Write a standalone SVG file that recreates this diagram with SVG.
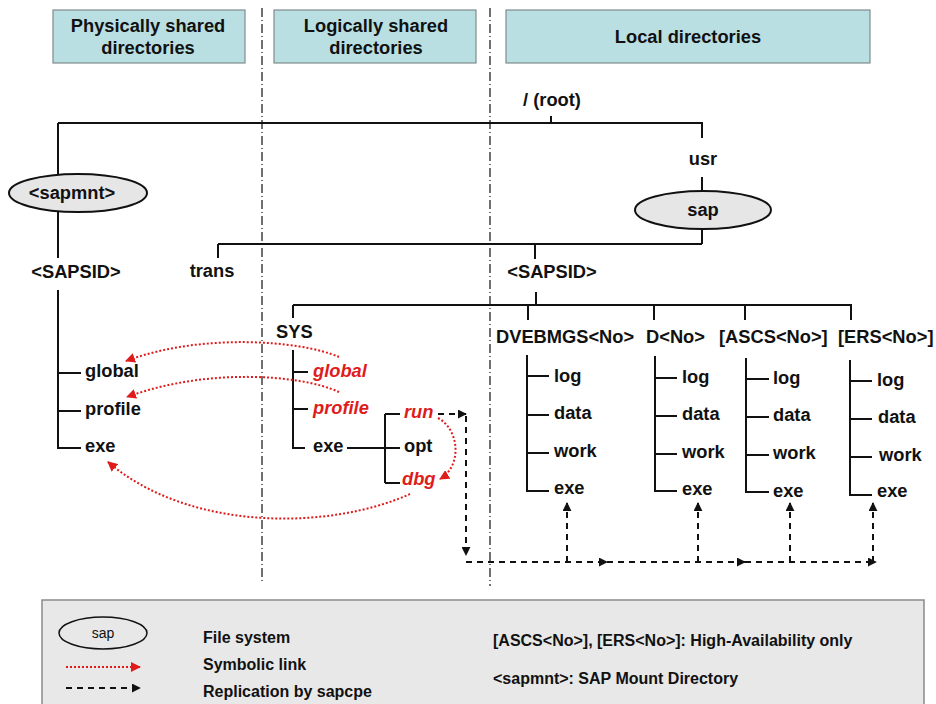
<svg xmlns="http://www.w3.org/2000/svg" width="936" height="704" viewBox="0 0 936 704">
  <style>
    .hdr { fill: #b9dfe3; stroke: #7f8c8d; stroke-width: 1.2; }
    .ht { font-family: "Liberation Sans", Arial, sans-serif; font-weight: bold; font-size: 18.3px; fill: #111; text-anchor: middle; }
    .t { font-family: "Liberation Sans", Arial, sans-serif; font-weight: bold; font-size: 18.3px; fill: #111; }
    .tm { text-anchor: middle; }
    .red { fill: #e01b1b; font-style: italic; }
    .tree { fill: none; stroke: #111; stroke-width: 2; }
    .sep { fill: none; stroke: #111; stroke-width: 1.2; stroke-dasharray: 9 3 1 3; }
    .fs { fill: #e6e6e6; stroke: #111; stroke-width: 2; }
    .sym { fill: none; stroke: #e01b1b; stroke-width: 2; stroke-dasharray: 2 2; }
    .rep { fill: none; stroke: #111; stroke-width: 2; stroke-dasharray: 6 5; }
    .lg { font-family: "Liberation Sans", Arial, sans-serif; font-weight: bold; font-size: 16px; fill: #111; }
  </style>
  <defs>
    <marker id="ahRed" viewBox="0 0 10 10" refX="9" refY="5" markerWidth="10" markerHeight="10" markerUnits="userSpaceOnUse" orient="auto">
      <path d="M0,0 L10,5 L0,10 z" fill="#e01b1b"/>
    </marker>
    <marker id="ahBlack" viewBox="0 0 10 10" refX="9" refY="5" markerWidth="9" markerHeight="9" markerUnits="userSpaceOnUse" orient="auto">
      <path d="M0,0 L10,5 L0,10 z" fill="#111"/>
    </marker>
  </defs>

  <rect width="936" height="704" fill="#ffffff"/>

  <!-- column headers -->
  <g id="hdr-physical">
    <rect class="hdr" x="53" y="10" width="192" height="53"/>
    <text class="ht" x="148" y="32">Physically shared</text>
    <text class="ht" x="148" y="54">directories</text>
  </g>
  <g id="hdr-logical">
    <rect class="hdr" x="274" y="10" width="202" height="53"/>
    <text class="ht" x="376" y="32">Logically shared</text>
    <text class="ht" x="376" y="54">directories</text>
  </g>
  <g id="hdr-local">
    <rect class="hdr" x="506" y="10" width="364" height="53"/>
    <text class="ht" x="688" y="43">Local directories</text>
  </g>

  <!-- zone separators -->
  <g id="separators">
    <line class="sep" x1="262" y1="8" x2="262" y2="582"/>
    <line class="sep" x1="490" y1="8" x2="490" y2="586"/>
  </g>

  <!-- tree connectors -->
  <g id="connectors">
    <!-- root level -->
    <path class="tree" d="M551,116 V123 M58,123 H702 V138 M58,123 V174"/>
    <path class="tree" d="M702,177 V192 M702,229 V244 M218,244 H702 M218,244 V258 M535,244 V259"/>
    <!-- physically shared SAPSID -->
    <path class="tree" d="M58,212 V258 M58,290 V448 H81 M58,373 H81 M58,411 H81"/>
    <!-- SAPSID (local) -->
    <path class="tree" d="M536,292 V305 M293,305 H852 M293,305 V318"/>
    <!-- SYS -->
    <path class="tree" d="M293,350 V448 H305 M293,372 H308 M293,409 H308"/>
    <path class="tree" d="M347,448 H400 M385,414 V483 M385,414 H400 M385,483 H400"/>
    <!-- instance directories -->
    <path class="tree" d="M528,305 V320 M654,305 V320 M745,305 V320 M851,305 V320"/>
    <path class="tree" d="M527,355 V491 H549 M527,376 H549 M527,415 H549 M527,453 H549"/>
    <path class="tree" d="M655,356 V491 H677 M655,378 H677 M655,416 H677 M655,454 H677"/>
    <path class="tree" d="M746,358 V492 H769 M746,379 H769 M746,417 H769 M746,455 H769"/>
    <path class="tree" d="M850,360 V495 H872 M850,381 H872 M850,419 H872 M850,457 H872"/>

    <!-- symbolic links -->
    <path class="sym" d="M339,357 C300,340 200,333 126,361" marker-end="url(#ahRed)"/>
    <path class="sym" d="M339,392 C300,374 205,368 127,397" marker-end="url(#ahRed)"/>
    <path class="sym" d="M410,494 C330,530 190,532 108,462" marker-end="url(#ahRed)"/>
    <path class="sym" d="M438,418 C460,430 462,466 440,479" marker-end="url(#ahRed)"/>

    <!-- replication by sapcpe -->
    <path class="rep" d="M438,414 H466" marker-end="url(#ahBlack)"/>
    <path class="rep" d="M466,416 V555" marker-end="url(#ahBlack)"/>
    <path class="rep" d="M466,562 H607" marker-end="url(#ahBlack)"/>
    <path class="rep" d="M607,562 H745" marker-end="url(#ahBlack)"/>
    <path class="rep" d="M745,562 H876" marker-end="url(#ahBlack)"/>
    <path class="rep" d="M567,562 V503" marker-end="url(#ahBlack)"/>
    <path class="rep" d="M698,562 V503" marker-end="url(#ahBlack)"/>
    <path class="rep" d="M790,562 V503" marker-end="url(#ahBlack)"/>
    <path class="rep" d="M873,562 V503" marker-end="url(#ahBlack)"/>
  </g>

  <!-- nodes -->
  <g id="n-root"><text class="t tm" x="552" y="106">/ (root)</text></g>
  <g id="n-usr"><text class="t tm" x="703" y="165">usr</text></g>
  <g id="n-sap">
    <ellipse class="fs" cx="703" cy="210" rx="68" ry="19"/>
    <text class="t tm" x="703" y="216">sap</text>
  </g>
  <g id="n-sapmnt">
    <ellipse class="fs" cx="78" cy="193" rx="69" ry="19"/>
    <text class="t tm" x="72" y="199">&lt;sapmnt&gt;</text>
  </g>
  <g id="n-sapsid-phys"><text class="t tm" x="76" y="278">&lt;SAPSID&gt;</text></g>
  <g id="n-global-phys"><text class="t" x="85" y="377">global</text></g>
  <g id="n-profile-phys"><text class="t" x="85" y="415">profile</text></g>
  <g id="n-exe-phys"><text class="t" x="85" y="452">exe</text></g>

  <g id="n-trans"><text class="t tm" x="212" y="277">trans</text></g>
  <g id="n-sapsid-local"><text class="t tm" x="552" y="278">&lt;SAPSID&gt;</text></g>

  <g id="n-sys"><text class="t" x="276" y="338">SYS</text></g>
  <g id="n-sys-global"><text class="t red" x="313" y="377">global</text></g>
  <g id="n-sys-profile"><text class="t red" x="313" y="414">profile</text></g>
  <g id="n-sys-exe"><text class="t" x="313" y="452">exe</text></g>
  <g id="n-run"><text class="t red" x="404" y="418">run</text></g>
  <g id="n-opt"><text class="t" x="404" y="452">opt</text></g>
  <g id="n-dbg"><text class="t red" x="402" y="485">dbg</text></g>

  <g id="n-dvebmgs">
    <text class="t" x="496" y="343">DVEBMGS&lt;No&gt;</text>
    <text class="t" x="554" y="382">log</text>
    <text class="t" x="554" y="419">data</text>
    <text class="t" x="554" y="457">work</text>
    <text class="t" x="554" y="494">exe</text>
  </g>
  <g id="n-d">
    <text class="t" x="646" y="343">D&lt;No&gt;</text>
    <text class="t" x="682" y="383">log</text>
    <text class="t" x="682" y="420">data</text>
    <text class="t" x="682" y="458">work</text>
    <text class="t" x="682" y="495">exe</text>
  </g>
  <g id="n-ascs">
    <text class="t" x="719" y="343">[ASCS&lt;No&gt;]</text>
    <text class="t" x="773" y="384">log</text>
    <text class="t" x="773" y="421">data</text>
    <text class="t" x="773" y="459">work</text>
    <text class="t" x="773" y="497">exe</text>
  </g>
  <g id="n-ers">
    <text class="t" x="838" y="343">[ERS&lt;No&gt;]</text>
    <text class="t" x="877" y="386">log</text>
    <text class="t" x="878" y="423">data</text>
    <text class="t" x="879" y="461">work</text>
    <text class="t" x="877" y="497">exe</text>
  </g>

  <!-- legend -->
  <g id="legend">
    <rect x="42" y="600" width="882" height="110" fill="#e8e8e8" stroke="#8a8a8a" stroke-width="1.5"/>
    <ellipse cx="103" cy="633" rx="44" ry="16" fill="none" stroke="#111" stroke-width="1.5"/>
    <text x="103" y="638" font-family="Liberation Sans, Arial, sans-serif" font-size="14" fill="#111" text-anchor="middle">sap</text>
    <text class="lg" x="203" y="643">File system</text>
    <path class="sym" d="M66,667 H140" marker-end="url(#ahRed)"/>
    <text class="lg" x="203" y="670">Symbolic link</text>
    <path class="rep" d="M66,688 H140" marker-end="url(#ahBlack)"/>
    <text class="lg" x="203" y="697">Replication by sapcpe</text>
    <text class="lg" x="493" y="646">[ASCS&lt;No&gt;], [ERS&lt;No&gt;]:  High-Availability only</text>
    <text class="lg" x="493" y="684">&lt;sapmnt&gt;: SAP Mount Directory</text>
  </g>
</svg>
